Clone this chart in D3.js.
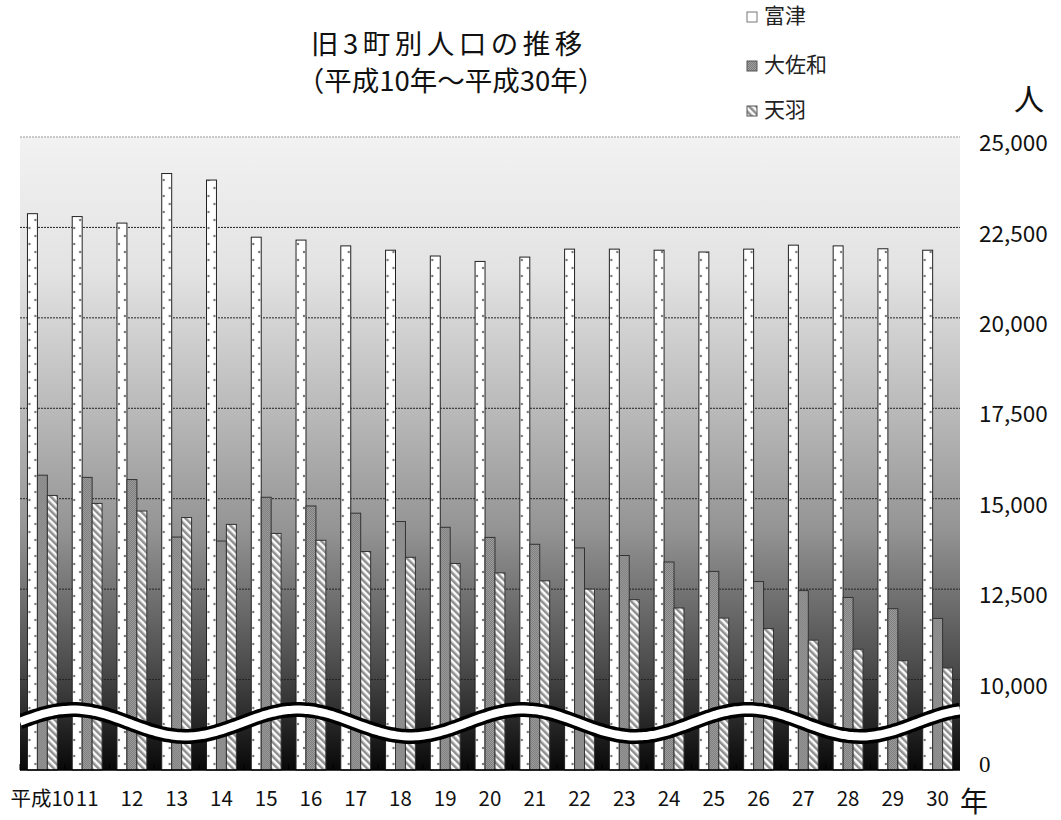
<!DOCTYPE html>
<html>
<head>
<meta charset="utf-8">
<script src="https://cdn.jsdelivr.net/npm/d3@7/dist/d3.min.js"></script>
<style>
  html, body { margin: 0; padding: 0; background: #fff; }
  text { font-family: "Noto Sans CJK JP", "Noto Sans", sans-serif; }
</style>
</head>
<body>
<div id="chart"></div>
<script>
// years on the x axis
var years = ["平成10", "11", "12", "13", "14", "15", "16", "17", "18", "19", "20",
             "21", "22", "23", "24", "25", "26", "27", "28", "29", "30"];
var seriesNames = ["富津", "大佐和", "天羽"];
// population
var futtsu = [22880, 22800, 22620, 23990, 23810, 22230, 22150, 21990, 21870, 21710, 21560,
              21680, 21900, 21900, 21870, 21820, 21900, 22010, 21990, 21910, 21870];
var osawa  = [15650, 15590, 15530, 13940, 13830, 15040, 14800, 14600, 14370, 14210, 13930,
              13740, 13640, 13430, 13250, 12990, 12710, 12460, 12270, 11960, 11690];
var amaha  = [15090, 14870, 14660, 14480, 14290, 14040, 13850, 13540, 13380, 13210, 12950,
              12730, 12500, 12210, 11980, 11700, 11410, 11090, 10840, 10520, 10320];
// axis (broken: the bottom of the axis stands for 0)
var tickValues = [7500, 10000, 12500, 15000, 17500, 20000, 22500, 25000];
var tickLabels = ["0", "10,000", "12,500", "15,000", "17,500", "20,000", "22,500", "25,000"];

var width = 1061, height = 820;
var plotLeft = 20, plotRight = 960, plotTop = 137, plotBottom = 770;

var svg = d3.select("#chart").append("svg")
    .attr("width", width)
    .attr("height", height);

var x = d3.scaleBand().domain(years).range([plotLeft, plotRight]).padding(0);
var y = d3.scaleLinear().domain([7500, 25000]).range([plotBottom, plotTop]);
var groupW = x.bandwidth() / 1.5;
var barW = groupW / 3;
var groupOff = (x.bandwidth() - groupW) / 2;

var defs = svg.append("defs");

// background gradient
var grad = defs.append("linearGradient")
    .attr("id", "bg")
    .attr("x1", 0).attr("y1", 0).attr("x2", 0).attr("y2", 1);
[[0, "#f2f2f2"], [0.21, "#e3e3e3"], [0.46, "#b4b4b4"], [0.62, "#949494"],
 [0.83, "#4e4e4e"], [1, "#080808"]].forEach(function (s) {
    grad.append("stop").attr("offset", s[0]).attr("stop-color", s[1]);
});

// 富津: white with small dots near the edges
var pDots = defs.append("pattern")
    .attr("id", "pDots")
    .attr("patternUnits", "userSpaceOnUse")
    .attr("width", barW).attr("height", 16);
pDots.append("rect").attr("width", barW).attr("height", 16).attr("fill", "#fff");
pDots.append("circle").attr("cx", 2).attr("cy", 4).attr("r", 1.2).attr("fill", "#555").attr("opacity", 0.8);
pDots.append("circle").attr("cx", barW - 2).attr("cy", 12).attr("r", 1.2).attr("fill", "#555").attr("opacity", 0.8);

// 大佐和: fine gray checker
var pCheck = defs.append("pattern")
    .attr("id", "pCheck")
    .attr("patternUnits", "userSpaceOnUse")
    .attr("width", 2).attr("height", 2);
pCheck.append("rect").attr("width", 2).attr("height", 2).attr("fill", "#a0a0a0");
pCheck.append("rect").attr("width", 1).attr("height", 1).attr("fill", "#7a7a7a");
pCheck.append("rect").attr("x", 1).attr("y", 1).attr("width", 1).attr("height", 1).attr("fill", "#7a7a7a");

// 天羽: diagonal stripes
var pStripe = defs.append("pattern")
    .attr("id", "pStripe")
    .attr("patternUnits", "userSpaceOnUse")
    .attr("width", 5).attr("height", 5)
    .attr("patternTransform", "rotate(-45)");
pStripe.append("rect").attr("width", 5).attr("height", 5).attr("fill", "#fafafa");
pStripe.append("rect").attr("width", 2.5).attr("height", 5).attr("fill", "#8e8e8e");

var fills = ["url(#pDots)", "url(#pCheck)", "url(#pStripe)"];
var legendFills = ["#fff", "url(#pCheck)", "url(#pStripe)"];
var strokes = ["#222", "#333", "#333"];

// plot background
svg.append("rect")
    .attr("x", plotLeft).attr("y", plotTop)
    .attr("width", plotRight - plotLeft).attr("height", plotBottom - plotTop)
    .attr("fill", "url(#bg)");

// gridlines
svg.append("g").selectAll("line")
    .data(tickValues.slice(1))
    .enter().append("line")
    .attr("x1", plotLeft).attr("x2", plotRight)
    .attr("y1", function (d) { return y(d); })
    .attr("y2", function (d) { return y(d); })
    .attr("stroke", function (d) { return d === 25000 ? "#999" : "#222"; })
    .attr("stroke-width", 1)
    .attr("stroke-dasharray", "2,1");

// bars
var rows = years.map(function (yr, i) {
    return {year: yr, values: [futtsu[i], osawa[i], amaha[i]]};
});
var groups = svg.append("g").selectAll(".year")
    .data(rows)
    .enter().append("g")
    .attr("class", "year");
groups.selectAll("g.bar")
    .data(function (d) {
        return d.values.map(function (v, k) { return {year: d.year, v: v, k: k}; });
    })
    .enter().append("g")
    .attr("class", "bar")
    .attr("transform", function (d) {
        return "translate(" + (x(d.year) + groupOff + d.k * barW) + ",0)";
    })
    .append("rect")
    .attr("x", 0)
    .attr("y", function (d) { return y(d.v); })
    .attr("width", barW)
    .attr("height", function (d) { return y(7500) - y(d.v); })
    .attr("fill", function (d) { return fills[d.k]; })
    .attr("stroke", function (d) { return strokes[d.k]; })
    .attr("stroke-width", 1);

// axis line and small inner ticks
svg.append("line")
    .attr("x1", plotLeft).attr("x2", plotRight)
    .attr("y1", plotBottom).attr("y2", plotBottom)
    .attr("stroke", "#000").attr("stroke-width", 1.5);
svg.append("g").selectAll("line")
    .data(years)
    .enter().append("line")
    .attr("x1", function (d) { return x(d); })
    .attr("x2", function (d) { return x(d); })
    .attr("y1", plotBottom).attr("y2", plotBottom - 6)
    .attr("stroke", "#000");

// axis-break wave
var waveMid = y(7500) - 47, amp = 13.5, period = 225, peakX = 73;
var wavePts = d3.range(plotLeft, plotRight + 1, 4).map(function (px) {
    return [px, waveMid - amp * Math.cos(2 * Math.PI * (px - peakX) / period)];
});
var waveLine = d3.line().curve(d3.curveBasis);
svg.append("path").attr("d", waveLine(wavePts))
    .attr("fill", "none").attr("stroke", "#000").attr("stroke-width", 15);
svg.append("path").attr("d", waveLine(wavePts))
    .attr("fill", "none").attr("stroke", "#fff").attr("stroke-width", 8);
// trim the wave at the plot edges
svg.append("rect").attr("x", 0).attr("y", 680).attr("width", plotLeft).attr("height", 80).attr("fill", "#fff");
svg.append("rect").attr("x", plotRight).attr("y", 680).attr("width", 20).attr("height", 80).attr("fill", "#fff");

// y tick labels
svg.append("g").selectAll("text")
    .data(tickValues)
    .enter().append("text")
    .attr("x", 979)
    .attr("y", function (d, i) { return y(d) + (i === 0 ? -3 : 8); })
    .attr("dominant-baseline", "middle")
    .attr("font-size", function (d, i) { return i === 0 ? 23 : 22.5; })
    .attr("fill", "#111")
    .style("font-family", function (d, i) {
        return i === 0 ? "'Liberation Serif', serif" : null;
    })
    .text(function (d, i) { return tickLabels[i]; });

// x tick labels
svg.append("g").selectAll("text")
    .data(years)
    .enter().append("text")
    .attr("x", function (d) { return x(d) + x.bandwidth() / 2; })
    .attr("y", 806)
    .attr("text-anchor", "middle")
    .attr("font-size", 20.5)
    .attr("fill", "#111")
    .text(function (d) { return d; });

// unit labels
svg.append("text").attr("x", 974).attr("y", 812).attr("text-anchor", "middle")
    .attr("font-size", 28).attr("fill", "#111").text("年");
svg.append("text").attr("x", 1029).attr("y", 110).attr("text-anchor", "middle")
    .attr("font-size", 30).attr("fill", "#111").text("人");

// title
svg.append("text").attr("x", 449).attr("y", 54).attr("text-anchor", "middle")
    .attr("font-size", 27.5).attr("letter-spacing", 4.5).attr("fill", "#111")
    .text("旧3町別人口の推移");
svg.append("text").attr("x", 451).attr("y", 91).attr("text-anchor", "middle")
    .attr("font-size", 27.5).attr("fill", "#111")
    .text("（平成10年〜平成30年）");

// legend
var legendY = [17, 66, 111];
var legend = svg.append("g").selectAll("g")
    .data(seriesNames)
    .enter().append("g")
    .attr("transform", function (d, i) { return "translate(747," + (legendY[i] - 5) + ")"; });
legend.append("rect")
    .attr("width", 10).attr("height", 10)
    .attr("fill", function (d, i) { return legendFills[i]; })
    .attr("stroke", function (d, i) { return i === 0 ? "#777" : "#555"; })
    .attr("stroke-width", 1);
legend.append("text")
    .attr("x", 17).attr("y", 5)
    .attr("dominant-baseline", "middle")
    .attr("font-size", 21)
    .attr("fill", "#222")
    .text(function (d) { return d; });
</script>
</body>
</html>
